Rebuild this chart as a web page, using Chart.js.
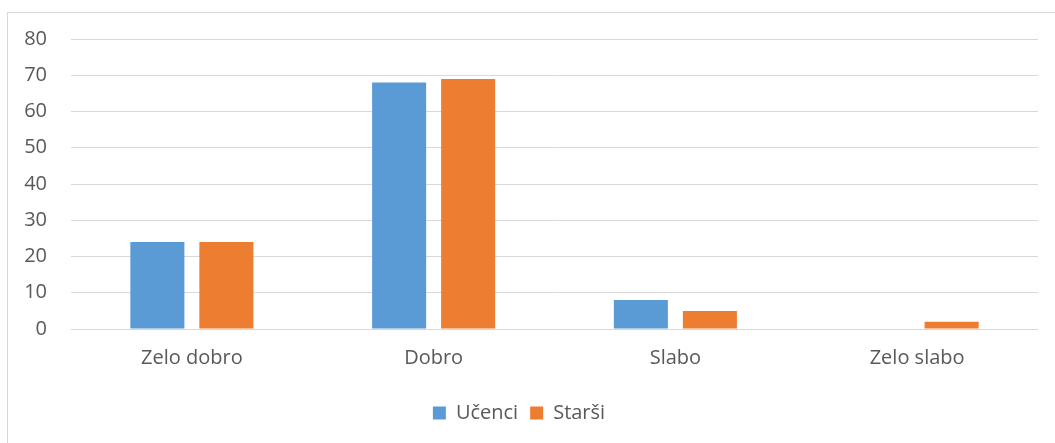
<!DOCTYPE html>
<html>
<head>
<meta charset="utf-8">
<script src="https://cdn.jsdelivr.net/npm/chart.js@4/dist/chart.umd.min.js"></script>
<style>
    html, body { margin: 0; padding: 0; background: #fff; overflow: hidden; }
    #wrap { position: relative; width: 1055px; height: 443px; }
    #frame { position: absolute; left: 7px; top: 12px; width: 1060px; height: 440px; border: 1px solid #d9d9d9; box-sizing: border-box; }
    canvas { position: absolute; left: 0; top: 0; }
</style>
</head>
<body>
<div id="wrap">
    <div id="frame"></div>
    <canvas id="chart" width="1055" height="443"></canvas>
</div>
<script>
// Ocena (Excel-style clustered columns)
const categories = ['Zelo dobro', 'Dobro', 'Slabo', 'Zelo slabo'];
const ucenci = [24, 68, 8, 0];
const starsi = [24, 69, 5, 2];
const seriesNames = ['Učenci', 'Starši'];

const textColor = '#595959';
const gridColor = '#d9d9d9';
const fontFamily = '"Open Sans", "Noto Sans", sans-serif';

const ctx = document.getElementById('chart').getContext('2d');

new Chart(ctx, {
    type: 'bar',
    data: {
        labels: categories,
        datasets: [{
            label: seriesNames[0],
            data: ucenci,
            backgroundColor: '#5b9bd5',
            categoryPercentage: 0.571,
            barPercentage: 0.783
        }, {
            label: seriesNames[1],
            data: starsi,
            backgroundColor: '#ed7d31',
            categoryPercentage: 0.571,
            barPercentage: 0.783
        }]
    },
    options: {
        responsive: false,
        animation: false,
        layout: {
            padding: { left: 0, right: 17, top: 39, bottom: 10 }
        },
        plugins: {
            legend: {
                position: 'bottom',
                labels: {
                    color: textColor,
                    boxWidth: 13,
                    boxHeight: 13,
                    padding: 12,
                    font: { family: fontFamily, size: 20 }
                }
            },
            tooltip: { enabled: false }
        },
        scales: {
            y: {
                min: 0,
                max: 80,
                ticks: {
                    stepSize: 10,
                    color: textColor,
                    padding: 24,
                    font: { family: fontFamily, size: 20 }
                },
                grid: {
                    color: gridColor,
                    lineWidth: 1,
                    drawTicks: false
                },
                border: { display: false },
                afterFit: function(scale) { scale.width = 71; }
            },
            x: {
                ticks: {
                    color: textColor,
                    padding: 17,
                    font: { family: fontFamily, size: 20 }
                },
                grid: { display: false, drawTicks: false },
                border: { display: false },
                afterFit: function(scale) { scale.height = 62; }
            }
        }
    }
});
</script>
</body>
</html>
